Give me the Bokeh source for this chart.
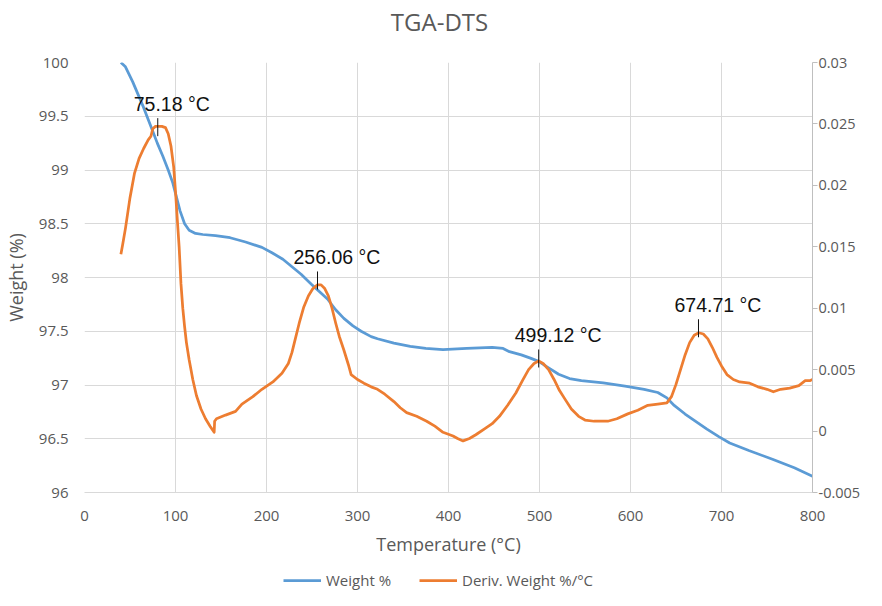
from bokeh.plotting import figure
from bokeh.layouts import column
from bokeh.models import (Range1d, LinearAxis, CustomJSTickFormatter, Legend,
                          LegendItem, ColumnDataSource, Label)
from bokeh.core.properties import value
from bokeh.embed import file_html
from bokeh.resources import INLINE

# ---------------- data ----------------
temp_w = [40, 45, 53, 60, 65, 70, 75, 80, 86, 92, 97, 101, 105, 110, 115, 122, 130,
          144, 160, 177, 195, 206, 218, 228, 238, 249, 258, 267, 276, 285, 295, 304,
          315, 322, 340, 358, 375, 394, 420, 448, 460, 467, 480, 490, 499, 510, 521,
          533, 546, 570, 594, 615, 630, 640, 648, 660, 672, 684, 697, 709, 730, 756,
          780, 800]
weight = [100.0, 99.96, 99.82, 99.68, 99.58, 99.47, 99.36, 99.25, 99.13, 99.0, 98.88,
          98.75, 98.62, 98.50, 98.44, 98.41, 98.40, 98.39, 98.37, 98.33, 98.28, 98.23,
          98.17, 98.10, 98.03, 97.94, 97.87, 97.80, 97.70, 97.62, 97.55, 97.50, 97.45,
          97.43, 97.39, 97.36, 97.34, 97.33, 97.34, 97.35, 97.34, 97.31, 97.28, 97.25,
          97.22, 97.16, 97.10, 97.06, 97.04, 97.02, 96.99, 96.96, 96.93, 96.88, 96.81,
          96.73, 96.66, 96.59, 96.52, 96.46, 96.39, 96.31, 96.23, 96.15]

temp_d = [40, 42, 45, 50, 55, 60, 65, 70, 73, 75, 78, 85, 89, 92, 95, 98, 100, 102,
          104, 106, 108, 110, 112, 115, 119, 123, 128, 133, 138, 142.5, 143, 145, 155,
          166, 173, 185, 195, 207, 217, 224, 228, 232, 236, 241, 246, 251, 256, 260,
          264, 268, 272, 276, 280, 285, 290, 293, 300, 307, 315, 322, 330, 340, 347,
          354, 365, 376, 385, 394, 405, 410, 416, 423, 430, 440, 448, 456, 465, 474,
          482, 488, 494, 499, 504, 510, 516, 522, 528, 535, 543, 550, 560, 575, 585,
          597, 608, 619, 630, 640, 645, 650, 655, 660, 665, 670, 675, 680, 685, 690,
          695, 700, 706, 713, 720, 731, 740, 750, 757, 765, 775, 785, 792, 797, 800]
deriv = [0.0144, 0.0152, 0.0165, 0.0190, 0.0210, 0.0222, 0.0230, 0.0237, 0.0240,
         0.0246, 0.0248, 0.0248, 0.0247, 0.0242, 0.0232, 0.0215, 0.0195, 0.0172,
         0.0150, 0.0120, 0.0100, 0.0085, 0.0072, 0.0058, 0.0042, 0.0029, 0.0018,
         0.0010, 0.0004, -0.0001, 0.0008, 0.0010, 0.0013, 0.0016, 0.0022, 0.0028,
         0.0034, 0.0040, 0.0047, 0.0055, 0.0064, 0.0076, 0.0088, 0.0101, 0.0110,
         0.0116, 0.0119, 0.0119, 0.0116, 0.0110, 0.0100, 0.0088, 0.0077, 0.0066,
         0.0054, 0.0046, 0.0042, 0.0039, 0.0036, 0.0034, 0.0030, 0.0024, 0.0019,
         0.0015, 0.0012, 0.0008, 0.0004, -0.0001, -0.0004, -0.0006, -0.0008, -0.0006,
         -0.0003, 0.0002, 0.0006, 0.0012, 0.0021, 0.0031, 0.0042, 0.0050, 0.0055,
         0.0057, 0.0055, 0.0050, 0.0042, 0.0033, 0.0026, 0.0018, 0.0012, 0.0009,
         0.0008, 0.0008, 0.0010, 0.0014, 0.0017, 0.0021, 0.0022, 0.0023, 0.0028,
         0.0038, 0.0050, 0.0062, 0.0072, 0.0078, 0.0080, 0.0079, 0.0075, 0.0068,
         0.0060, 0.0053, 0.0046, 0.0042, 0.0040, 0.0039, 0.0036, 0.0034, 0.0032,
         0.0034, 0.0035, 0.0037, 0.0041, 0.0041, 0.0042]

# data-label anchor points and their texts
peak_x = [80.5, 256.06, 499.12, 674.71]
peak_vals = [0.02425, 0.01177, 0.00542, 0.00788]
peak_labels = ["75.18 °C", "256.06 °C", "499.12 °C", "674.71 °C"]

x_ticks = [0, 100, 200, 300, 400, 500, 600, 700, 800]
left_ticks = [96, 96.5, 97, 97.5, 98, 98.5, 99, 99.5, 100]
right_ticks = [-0.005, 0, 0.005, 0.01, 0.015, 0.02, 0.025, 0.03]
series_names = ["Weight %", "Deriv. Weight %/°C"]
chart_title = "TGA-DTS"

# ---------------- style ----------------
GRID = "#d9d9d9"
AX = "#bfbfbf"
TXT = "#595959"
FONT = "Open Sans"
BLUE = "#5b9bd5"
ORANGE = "#ed7d31"
W = 866
H_TOP, H_MAIN, H_LEG = 47, 518, 25
NAN = float("nan")


def blank(height):
    f = figure(width=W, height=height, output_backend="svg", toolbar_location=None,
               x_axis_type=None, y_axis_type=None, min_border=0,
               x_range=Range1d(0, W), y_range=Range1d(0, height))
    f.outline_line_color = None
    f.background_fill_color = "white"
    f.border_fill_color = "white"
    f.xgrid.visible = False
    f.ygrid.visible = False
    return f


# ---------------- title strip ----------------
pt = blank(H_TOP)
pt.add_layout(Label(x=355, y=H_TOP - 21, x_units="screen", y_units="screen",
                    text=chart_title, text_align="center", text_baseline="middle",
                    text_font=FONT, text_font_size="24px", text_color=TXT))

# ---------------- main chart ----------------
p = figure(width=W, height=H_MAIN, output_backend="svg", toolbar_location=None,
           x_range=Range1d(0, 800), y_range=Range1d(96, 100),
           min_border_left=78, min_border_right=54, min_border_top=15,
           min_border_bottom=73)
p.extra_y_ranges = {"d": Range1d(-0.005, 0.03)}
p.outline_line_color = None
p.background_fill_color = "white"
p.border_fill_color = "white"

p.xgrid.grid_line_color = GRID
p.ygrid.grid_line_color = GRID

# x axis
p.xaxis.ticker = x_ticks
p.xaxis.axis_line_color = GRID
p.xaxis.major_tick_line_color = None
p.xaxis.major_tick_out = 0
p.xaxis.major_tick_in = 0
p.xaxis.minor_tick_line_color = None
p.xaxis.major_label_standoff = 18
p.xaxis.major_label_text_font = FONT
p.xaxis.major_label_text_font_size = "15px"
p.xaxis.major_label_text_color = TXT
p.xaxis.axis_label = "Temperature (°C)"
p.xaxis.axis_label_text_font = FONT
p.xaxis.axis_label_text_font_size = "18px"
p.xaxis.axis_label_text_font_style = "normal"
p.xaxis.axis_label_text_color = TXT
p.xaxis.axis_label_standoff = 8

# left axis
p.yaxis.ticker = left_ticks
p.yaxis.formatter = CustomJSTickFormatter(code="return String(tick)")
p.yaxis.axis_line_color = None
p.yaxis.major_tick_line_color = None
p.yaxis.major_tick_out = 0
p.yaxis.major_tick_in = 0
p.yaxis.minor_tick_line_color = None
p.yaxis.major_label_standoff = 16
p.yaxis.major_label_text_font = FONT
p.yaxis.major_label_text_font_size = "15px"
p.yaxis.major_label_text_color = TXT
p.yaxis.axis_label = "Weight (%)"
p.yaxis.axis_label_text_font = FONT
p.yaxis.axis_label_text_font_size = "18px"
p.yaxis.axis_label_text_font_style = "normal"
p.yaxis.axis_label_text_color = TXT
p.yaxis.axis_label_standoff = 8

# right axis
ra = LinearAxis(y_range_name="d", ticker=right_ticks,
                formatter=CustomJSTickFormatter(code="return String(Math.round(tick*1000)/1000)"),
                axis_line_color=AX, major_tick_line_color=AX, major_tick_out=5,
                major_tick_in=0, minor_tick_line_color=None,
                major_label_text_font=FONT, major_label_text_font_size="14.5px",
                major_label_text_color=TXT, major_label_standoff=1)
p.add_layout(ra, "right")

# lines
p.line(temp_w, weight, line_color=BLUE, line_width=2.75, line_join="round")
p.line(temp_d, deriv, line_color=ORANGE, line_width=2.75, line_join="round",
       y_range_name="d")

# peak labels with leader ticks
u = 0.035 / 430.0
lab = ColumnDataSource(dict(
    x=peak_x, y=peak_vals,
    y0=[v - 3 * u for v in peak_vals], y1=[v + 15 * u for v in peak_vals],
    t=peak_labels))
p.segment(x0="x", y0="y0", x1="x", y1="y1", source=lab, y_range_name="d",
          line_color="#111111", line_width=1)
p.text(x="x", y="y", text="t", source=lab, y_range_name="d", x_offset=-24,
       y_offset=-29, text_font=value("Liberation Sans"), text_font_size="19.5px",
       text_color="#111111", text_baseline="alphabetic", text_align="left")

# ---------------- legend strip ----------------
pl = blank(H_LEG)
g_w = pl.line([NAN], [NAN], line_color=BLUE, line_width=2.75)
g_d = pl.line([NAN], [NAN], line_color=ORANGE, line_width=2.75)
legend = Legend(items=[LegendItem(label=series_names[0], renderers=[g_w]),
                       LegendItem(label=series_names[1], renderers=[g_d])],
                orientation="horizontal", location=(199, 0),
                border_line_color=None, background_fill_alpha=0, padding=0, margin=0,
                spacing=28, glyph_width=38, glyph_height=20, label_standoff=5,
                label_text_font=FONT, label_text_font_size="15px",
                label_text_color=TXT)
pl.add_layout(legend, "center")

layout = column(pt, p, pl, spacing=0)
open("out.html", "w").write(file_html(layout, INLINE))
